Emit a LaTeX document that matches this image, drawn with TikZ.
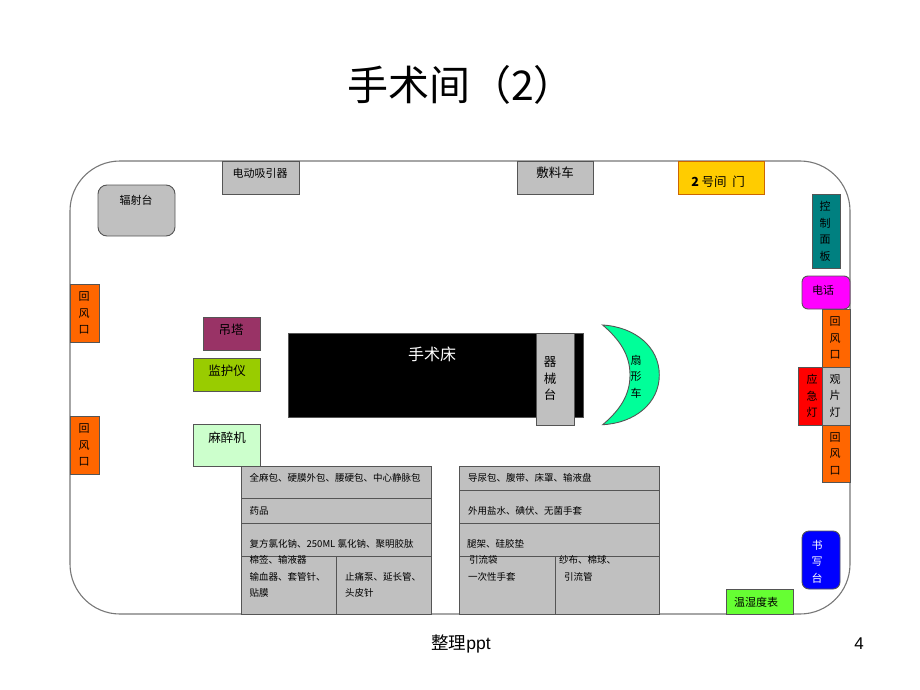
\documentclass[tikz,border=0pt]{standalone}
\usepackage{fontspec}
\setmainfont{Noto Sans CJK SC}
\newfontfamily\latinfont{Liberation Sans}
\usepackage{tikz}

\definecolor{wallgray}{HTML}{777777}
\definecolor{edgegray}{HTML}{555555}
\definecolor{devgray}{HTML}{C0C0C0}
\definecolor{ventorange}{HTML}{FF6600}

\tikzset{
  wall/.style={draw=wallgray,line width=1.1pt},
  unit/.style={draw=edgegray,line width=0.9pt},
  tag/.style={inner sep=0pt,align=center,font=\fontsize{11}{16.5}\selectfont},
  bigtag/.style={inner sep=0pt,align=center,font=\fontsize{12.5}{16.5}\selectfont},
  cell/.style={inner sep=0pt,anchor=west,font=\fontsize{9.5}{11}\selectfont},
}

\begin{document}
\begin{tikzpicture}[x=1pt,y=-1pt]
    \useasboundingbox (0,0) rectangle (920,690);

    \node [inner sep=0pt,font=\fontsize{41}{44}\selectfont] (title) at (461,85) {手术间（2）};

    % room outline
    \draw [wall,rounded corners=50pt] (70,161) rectangle (850,614);

    % top wall
    \draw [unit,fill=devgray] (222,161) rectangle (299,194);
    \node [tag] (suction) at (260,173) {电动吸引器};
    \draw [unit,fill=devgray] (517,161) rectangle (593,194);
    \node [bigtag] (dressing) at (555,173) {敷料车};
    \draw [draw=orange!80!black,line width=0.9pt,fill={rgb,255:red,255;green,204;blue,0}] (678,161) rectangle (764,194);
    \node [bigtag] (door) at (718,182) {\textbf{2} 号间\ \ 门};
    \draw [unit,fill=devgray,rounded corners=9pt] (98,185) rectangle (175,236);
    \node [tag] (warmer) at (136,200) {辐射台};

    % left wall
    \draw [unit,fill=ventorange] (70,284) rectangle (99,342);
    \node [tag] (ventA) at (84,313) {回\\风\\口};
    \draw [unit,fill=ventorange] (70,416) rectangle (99,474);
    \node [tag] (ventB) at (84,445) {回\\风\\口};

    % anaesthesia side
    \draw [unit,fill={rgb,255:red,153;green,51;blue,102}] (203,317) rectangle (260,350);
    \node [bigtag] (pendant) at (231,330) {吊塔};
    \draw [unit,fill={rgb,255:red,153;green,204;blue,0}] (193,358) rectangle (260,391);
    \node [bigtag] (monitor) at (227,371) {监护仪};
    \draw [unit,fill={rgb,255:red,204;green,255;blue,204}] (193,424) rectangle (260,466);
    \node [bigtag] (anaes) at (227,438) {麻醉机};

    % table and trolleys
    \draw [draw=edgegray,fill=black] (288.5,333) rectangle (583.5,417);
    \node [inner sep=0pt,text=white,font=\fontsize{16}{18}\selectfont] (optable) at (432,354) {手术床};
    \draw [unit,fill=devgray] (536,333) rectangle (574,425);
    \node [bigtag] (instrument) at (550,379) {器\\械\\台};
    \draw [unit,fill={rgb,255:red,0;green,255;blue,153}] (602.7,325) .. controls (635,327) and (659.3,347) .. (659.3,375)
        .. controls (659.3,403) and (635,423) .. (602.7,424.7)
        .. controls (620,410) and (630,395) .. (630,375)
        .. controls (630,355) and (620,340) .. (602.7,325) -- cycle;
    \node [tag] (fancart) at (636,376.5) {扇\\形\\车};

    % right wall
    \draw [unit,fill={rgb,255:red,0;green,128;blue,128}] (812,194) rectangle (840,268);
    \node [tag] (panel) at (825,231.5) {控\\制\\面\\板};
    \draw [unit,fill={rgb,255:red,255;green,0;blue,255},rounded corners=6pt] (802,276) rectangle (850,309);
    \node [tag] (phone) at (823,290) {电话};
    \draw [unit,fill=ventorange] (822,309) rectangle (850,367);
    \node [tag] (ventC) at (835,338) {回\\风\\口};
    \draw [unit,fill=devgray] (822,367) rectangle (850,425);
    \node [tag] (viewer) at (835,396) {观\\片\\灯};
    \draw [unit,fill=red] (798,367) rectangle (822,425);
    \node [tag] (emergency) at (812,396) {应\\急\\灯};
    \draw [unit,fill=ventorange] (822,425) rectangle (850,482);
    \node [tag] (ventD) at (835,453.5) {回\\风\\口};
    \draw [unit,fill=blue,rounded corners=7pt] (802,531) rectangle (840,589);
    \node [tag,text=white] (desk) at (817,561.5) {书\\写\\台};
    \draw [unit,fill={rgb,255:red,102;green,255;blue,51}] (726,589) rectangle (793,614);
    \node [tag] (hygro) at (756,602) {温湿度表};

    % left cabinet
    \draw [unit,fill=devgray] (241,466) rectangle (431.7,614);
    \draw [unit] (241,498.3) -- (431.7,498.3);
    \draw [unit] (241,523.3) -- (431.7,523.3);
    \draw [unit] (241,556.3) -- (431.7,556.3);
    \draw [unit] (336.3,556.3) -- (336.3,614);
    \node [cell] (cabLa) at (249.5,478) {全麻包、硬膜外包、腰硬包、中心静脉包};
    \node [cell] (cabLb) at (249.5,511) {药品};
    \node [cell] (cabLc) at (249.5,544) {复方氯化钠、250ML 氯化钠、聚明胶肽};
    \node [cell] (cabLd) at (249.5,560) {棉签、输液器};
    \node [cell] (cabLe) at (249.5,577) {输血器、套管针、};
    \node [cell] (cabLf) at (249.5,593) {贴膜};
    \node [cell] (cabLg) at (345,577) {止痛泵、延长管、};
    \node [cell] (cabLh) at (345,593) {头皮针};

    % right cabinet
    \draw [unit,fill=devgray] (459.7,466) rectangle (659.7,614);
    \draw [unit] (459.7,490.3) -- (659.7,490.3);
    \draw [unit] (459.7,523.3) -- (659.7,523.3);
    \draw [unit] (459.7,556.3) -- (659.7,556.3);
    \draw [unit] (555,556.3) -- (555,614);
    \node [cell] (cabRa) at (468,478) {导尿包、腹带、床罩、输液盘};
    \node [cell] (cabRb) at (468,511) {外用盐水、碘伏、无菌手套};
    \node [cell] (cabRc) at (467,544) {腿架、硅胶垫};
    \node [cell] (cabRd) at (469,560) {引流袋};
    \node [cell] (cabRe) at (468,577) {一次性手套};
    \node [cell] (cabRf) at (559,560) {纱布、棉球、};
    \node [cell] (cabRg) at (564,577) {引流管};

    % footer
    \node [inner sep=0pt,font=\fontsize{17.5}{20}\selectfont] (footer) at (461,644) {整理{\latinfont ppt}};
    \node [inner sep=0pt,font=\latinfont\fontsize{17}{18}\selectfont] (pageno) at (859,644) {4};
\end{tikzpicture}
\end{document}
